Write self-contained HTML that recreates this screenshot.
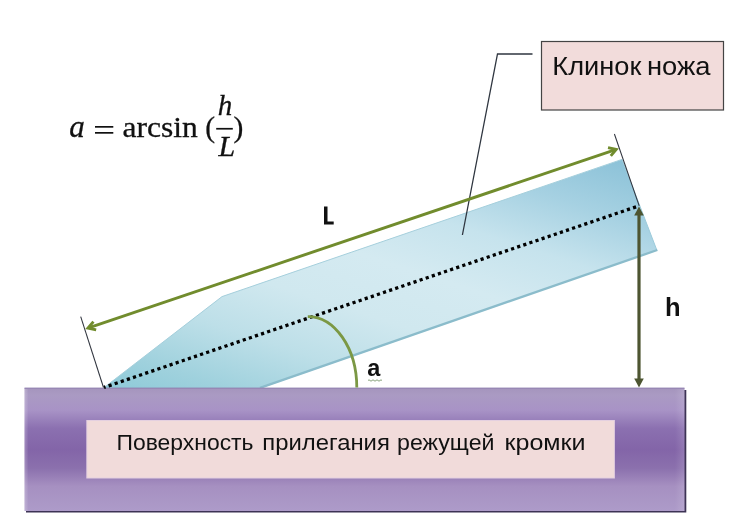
<!DOCTYPE html>
<html lang="ru">
<head>
<meta charset="utf-8">
<title>Угол заточки ножа</title>
<style>
  html, body { margin: 0; padding: 0; background: #ffffff; }
  body { width: 750px; height: 532px; overflow: hidden; position: relative; font-family: "Liberation Sans", sans-serif; }
  svg { position: absolute; left: 0; top: 0; display: block; transform: translateZ(0); will-change: transform; }
  text { font-family: "Liberation Sans", sans-serif; fill: #111; }
  .serif { font-family: "Liberation Serif", serif; }
</style>
</head>
<body>
<svg width="750" height="532" viewBox="0 0 750 532">
  <defs>
    <linearGradient id="blade" gradientUnits="userSpaceOnUse" x1="103" y1="388" x2="218.3" y2="30.1">
      <stop offset="0" stop-color="#8ecad8"/>
      <stop offset="0.1" stop-color="#9fd1dd"/>
      <stop offset="0.25" stop-color="#bddfe8"/>
      <stop offset="0.4" stop-color="#d0e8ef"/>
      <stop offset="0.55" stop-color="#d4eaf1"/>
      <stop offset="0.7" stop-color="#c6e3ed"/>
      <stop offset="0.85" stop-color="#a6d1e2"/>
      <stop offset="1" stop-color="#8cc2d8"/>
    </linearGradient>
    <linearGradient id="purple" x1="0" y1="0" x2="0" y2="1">
      <stop offset="0" stop-color="#a595bd"/>
      <stop offset="0.06" stop-color="#aa9ac3"/>
      <stop offset="0.18" stop-color="#a893c6"/>
      <stop offset="0.33" stop-color="#8b70b0"/>
      <stop offset="0.5" stop-color="#8365a8"/>
      <stop offset="0.65" stop-color="#8b70ad"/>
      <stop offset="0.8" stop-color="#a690c1"/>
      <stop offset="1" stop-color="#ad9bc9"/>
    </linearGradient>
    <linearGradient id="bevelR" x1="0" y1="0" x2="1" y2="0">
      <stop offset="0" stop-color="#ffffff" stop-opacity="0"/>
      <stop offset="1" stop-color="#ffffff" stop-opacity="0.13"/>
    </linearGradient>
    <linearGradient id="bevelL" x1="0" y1="0" x2="1" y2="0">
      <stop offset="0" stop-color="#ffffff" stop-opacity="0.25"/>
      <stop offset="1" stop-color="#ffffff" stop-opacity="0"/>
    </linearGradient>
  </defs>

  <rect x="0" y="0" width="750" height="532" fill="#ffffff"/>

  <!-- blade -->
  <polygon points="103.5,388 222,296.6 622,159.4 657,250.6 260,388.5" fill="url(#blade)"/>
  <polyline points="103.5,388 222,296.6 622,159.4" fill="none" stroke="#a5cfdc" stroke-width="1"/>
  <polyline points="622,159.4 657,250.6" fill="none" stroke="#9ccbdb" stroke-width="1"/>
  <polyline points="657.3,250 260,387.8" fill="none" stroke="#8bbccb" stroke-width="2.3"/>

  <!-- purple bar with shadow -->
  <rect x="26" y="390" width="660.3" height="122.5" fill="#3d3355"/>
  <rect x="24.5" y="388" width="660" height="123" fill="url(#purple)"/>
  <rect x="24.5" y="387.6" width="660" height="1" fill="#8f7fae"/>
  <rect x="675" y="389" width="9.5" height="122" fill="url(#bevelR)"/>
  <rect x="24.5" y="389" width="4" height="122" fill="url(#bevelL)"/>

  <!-- pink inner box -->
  <rect x="86.3" y="420" width="528.6" height="58.5" fill="#e4d0e0"/>
  <rect x="87.3" y="421" width="526.6" height="56.5" fill="#f1dbda"/>

  <!-- callout box -->
  <rect x="541.5" y="41.5" width="182" height="68.5" fill="#f2dcdb" stroke="#444" stroke-width="1.2"/>
  <polyline points="532.5,54 497.5,54 462.4,235" fill="none" stroke="#2f3640" stroke-width="1.3"/>

  <!-- thin guide lines -->
  <line x1="80.7" y1="316.7" x2="103.5" y2="387.5" stroke="#30343e" stroke-width="1.05"/>
  <line x1="614.4" y1="134" x2="639.2" y2="205.8" stroke="#30343e" stroke-width="1.05"/>

  <!-- dotted centre line -->
  <line x1="104" y1="387.4" x2="638.5" y2="206" stroke="#000" stroke-width="3.3" stroke-dasharray="3.2 3.24" stroke-dashoffset="1.6"/>

  <!-- L arrow -->
  <g stroke="#718c2d" stroke-width="2.9" fill="none" stroke-linecap="butt">
    <line x1="88.54" y1="327.84" x2="615.66" y2="149.66"/>
    <polyline points="608.03,147.7 616.23,149.47 610.78,155.85" stroke-linejoin="miter"/>
    <polyline points="93.42,321.65 87.97,328.03 96.17,329.8" stroke-linejoin="miter"/>
  </g>

  <!-- arc -->
  <path d="M 307.8 316.6 A 49 71 0 0 1 356.8 387.6" fill="none" stroke="#7b9844" stroke-width="2.8"/>

  <!-- h arrow -->
  <line x1="639" y1="213" x2="639" y2="381" stroke="#4d5531" stroke-width="3.2"/>
  <polygon points="639,206.5 643.8,215.5 634.2,215.5" fill="#4d5531"/>
  <polygon points="639,387.5 643.8,378.5 634.2,378.5" fill="#4d5531"/>

  <!-- labels -->
  <path d="M324 206.4 h3.5 v15.1 h6.2 v3.1 h-9.7 z" fill="#111"/>
  <text x="665" y="316" font-size="25.5" font-weight="bold">h</text>
  <text x="367.3" y="376" font-size="23.5" font-weight="bold">a</text>
  <path d="M368 380.5 q1 -1.4 2 0 t2 0 t2 0 t2 0 t2 0 t2 0 t2 0" fill="none" stroke="#6a8a5a" stroke-width="0.8"/>

  <text x="552.3" y="74.6" font-size="25" textLength="89" lengthAdjust="spacingAndGlyphs">Клинок</text>
  <text x="647" y="74.6" font-size="25" textLength="63.5" lengthAdjust="spacingAndGlyphs">ножа</text>
  <g font-size="21.7">
    <text x="116.5" y="450.4" textLength="137" lengthAdjust="spacingAndGlyphs">Поверхность</text>
    <text x="262.3" y="450.4" textLength="127.5" lengthAdjust="spacingAndGlyphs">прилегания</text>
    <text x="397" y="450.4" textLength="97.5" lengthAdjust="spacingAndGlyphs">режущей</text>
    <text x="504.5" y="450.4" textLength="81" lengthAdjust="spacingAndGlyphs">кромки</text>
  </g>

  <!-- formula -->
  <g class="serif" stroke="#111" stroke-width="0.3">
    <text class="serif" x="69.3" y="136.7" font-size="30.5" font-style="italic" textLength="15.5" lengthAdjust="spacingAndGlyphs">a</text>
    <rect x="95" y="126" width="18.3" height="1.7" fill="#111" stroke="none"/>
    <rect x="95" y="132" width="18.3" height="1.7" fill="#111" stroke="none"/>
    <text class="serif" x="122.5" y="136.7" font-size="30" textLength="75.3" lengthAdjust="spacingAndGlyphs">arcsin</text>
    <text class="serif" x="205.2" y="137.2" font-size="29.5">(</text>
    <text class="serif" x="217.8" y="115" font-size="29" font-style="italic">h</text>
    <rect x="216.2" y="127.9" width="16.6" height="1.7" fill="#111" stroke="none"/>
    <text class="serif" x="218.6" y="155.8" font-size="30" font-style="italic">L</text>
    <text class="serif" x="233.4" y="137.2" font-size="29.5">)</text>
  </g>
</svg>
</body>
</html>
